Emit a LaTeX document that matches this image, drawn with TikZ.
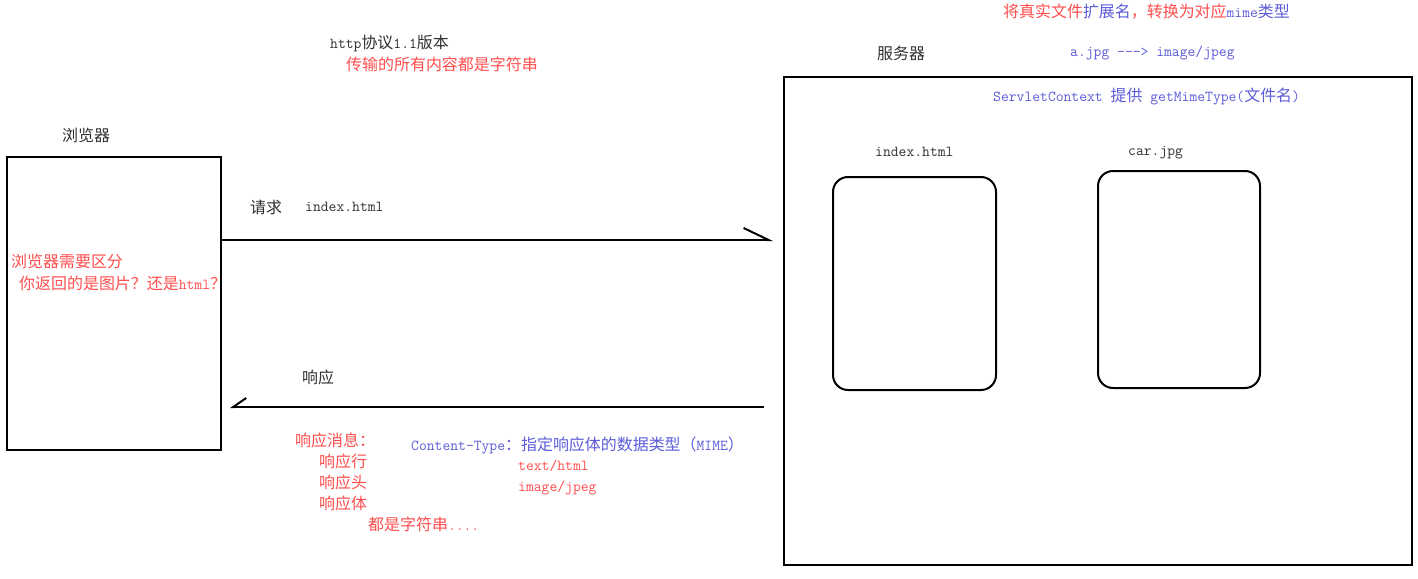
\documentclass[tikz,border=0pt]{standalone}
\usepackage{fontspec}
\newfontfamily\zhfont[Scale=1.05]{Noto Sans CJK SC}
\newcommand{\zh}[1]{{\zhfont #1}}
\usetikzlibrary{arrows.meta, positioning}
\usepackage{xcolor}
\definecolor{NoteRed}{HTML}{FF4D4D}
\definecolor{NoteBlue}{HTML}{5B5BD8}
\definecolor{Ink}{HTML}{303030}

\begin{document}
\begin{tikzpicture}[x=1pt, y=-1pt,
    box/.style={draw=black, line width=2pt, inner sep=0pt},
    filebox/.style={draw=black, line width=2pt, rounded corners=15pt, inner sep=0pt},
    txt/.style={anchor=west, inner sep=0pt, font=\fontsize{15.2}{18}\selectfont\ttfamily, text=Ink},
    redtxt/.style={txt, text=NoteRed},
    bluetxt/.style={txt, text=NoteBlue},
    reqarrow/.style={line width=2pt, -{Straight Barb[left, length=25pt, width=24pt]}},
    resarrow/.style={line width=2pt, -{Straight Barb[right, length=13pt, width=18pt]}}
  ]
  \useasboundingbox (0,0) rectangle (1418,578);

  % Browser
  \node[box, minimum width=214pt, minimum height=293pt] (browser) at (114,303.5) {};
  \node[txt] (browserlbl) at (62,135) {\zh{浏览器}};
  \node[redtxt] (need1) at (11,261) {\zh{浏览器需要区分}};
  \node[redtxt] (need2) at (19,283) {\zh{你返回的是图片？还是}html\zh{？}};

  % Server
  \node[box, minimum width=628pt, minimum height=488pt] (server) at (1098,321) {};
  \node[txt] (serverlbl) at (877,53) {\zh{服务器}};
  \node[redtxt] (convert) at (1003,12) {\zh{将真实文件}\textcolor{NoteBlue}{\zh{扩展名}}\zh{，转换为对应}\textcolor{NoteBlue}{mime\zh{类型}}};
  \node[bluetxt] (mapping) at (1070,53) {a.jpg ---> image/jpeg};
  \node[bluetxt] (mimeapi) at (993,96) {ServletContext \zh{提供} getMimeType(\zh{文件名})};

  \node[filebox, minimum width=163pt, minimum height=213pt] (indexfile) at (914.5,283.5) {};
  \node[txt] (indexlbl) at (875,152) {index.html};
  \node[filebox, minimum width=162pt, minimum height=217pt] (carfile) at (1179,279.5) {};
  \node[txt] (carlbl) at (1128,153) {car.jpg};

  % Protocol note
  \node[txt] (proto) at (330,43) {http\zh{协议}1.1\zh{版本}};
  \node[redtxt] (allstr) at (346,64) {\zh{传输的所有内容都是字符串}};

  % Request
  \coordinate (reqtip) at (773,240);
  \draw[reqarrow] (browser.east |- reqtip) -- (reqtip);
  \node[txt] (reqlbl) at (250,207) {\zh{请求}};
  \node[txt] (reqfile) at (305,207) {index.html};

  % Response
  \coordinate (restip) at (230,407);
  \draw[resarrow] ([xshift=-19pt]server.west |- restip) -- (restip);
  \node[txt] (reslbl) at (302,377) {\zh{响应}};

  % Response message
  \node[redtxt] (resmsg) at (295,440) {\zh{响应消息：}};
  \node[redtxt] (resline) at (319,461) {\zh{响应行}};
  \node[redtxt] (reshead) at (319,482) {\zh{响应头}};
  \node[redtxt] (resbody) at (319,503) {\zh{响应体}};
  \node[redtxt] (resstr) at (368,524) {\zh{都是字符串}....};

  \node[bluetxt] (ctype) at (411,445) {Content-Type\zh{：指定响应体的数据类型（}MIME\zh{）}};
  \node[redtxt] (thtml) at (518,466) {text/html};
  \node[redtxt] (tjpeg) at (518,488) {image/jpeg};
\end{tikzpicture}
\end{document}
